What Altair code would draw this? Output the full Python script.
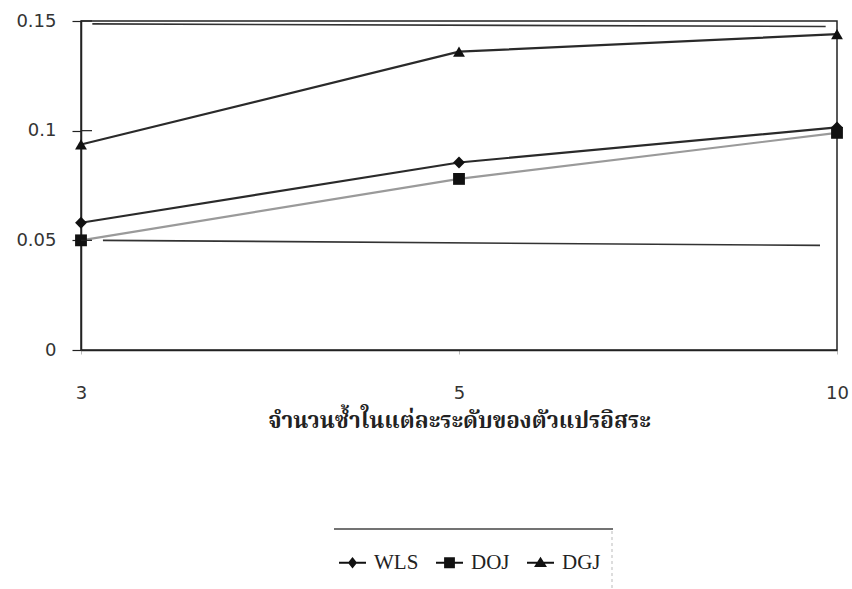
import altair as alt
import pandas as pd

# Replication counts per level of the independent variable (x categories)
categories = ["3", "5", "10"]
series_names = ["WLS", "DOJ", "DGJ"]

# Estimated rejection rates per method
wls = [0.058, 0.0855, 0.1015]
doj = [0.050, 0.078, 0.099]
dgj = [0.0937, 0.136, 0.144]

# Upper and lower bound lines (position along the category axis, value)
upper_pos = [0.03, 1.97]
upper_val = [0.1487, 0.1475]
lower_pos = [0.058, 1.955]
lower_val = [0.0500, 0.0477]

y_ticks = [0, 0.05, 0.1, 0.15]

rows = []
for name, vals in zip(series_names, [wls, doj, dgj]):
    for i, v in enumerate(vals):
        rows.append({"series": name, "pos": i, "value": v})
df = pd.DataFrame(rows)

bounds = pd.DataFrame(
    [{"band": "upper", "pos": p, "value": v} for p, v in zip(upper_pos, upper_val)]
    + [{"band": "lower", "pos": p, "value": v} for p, v in zip(lower_pos, lower_val)]
)

label_expr = "[" + ",".join(f"'{c}'" for c in categories) + "][datum.value]"

x_enc = alt.X(
    "pos:Q",
    scale=alt.Scale(domain=[0, len(categories) - 1], nice=False, zero=False),
    axis=alt.Axis(
        values=list(range(len(categories))),
        labelExpr=label_expr,
        labelFlush=False,
        labelBound=False,
        title="จำนวนซ้ำในแต่ละระดับของตัวแปรอิสระ",
        titleFont="Noto Serif Thai, Noto Sans Thai, Loma, Garuda, serif",
        titleFontSize=22.5,
        titleFontWeight="bold",
        titleColor="#222",
        titlePadding=7,
        labelFont="DejaVu Sans",
        labelFontSize=18,
        labelColor="#333",
        labelPadding=30,
        tickSize=4,
        tickColor="#bbbbbb",
        domainColor="#222",
        domainWidth=1.5,
        grid=False,
    ),
)

y_scale = alt.Scale(domain=[0, 0.15], nice=False)
y_enc = alt.Y(
    "value:Q",
    scale=y_scale,
    axis=alt.Axis(
        values=y_ticks,
        labelExpr="'' + datum.value",
        title=None,
        labelFont="DejaVu Sans",
        labelFontSize=18,
        labelColor="#333",
        labelPadding=16,
        tickSize=9,
        tickColor="#222",
        tickWidth=1.2,
        domainColor="#222",
        domainWidth=1.5,
        grid=False,
    ),
)

line_colors = ["#2a2a2a", "#9a9a9a", "#2a2a2a"]

bound_lines = alt.Chart(bounds).mark_line(color="#333", strokeWidth=1.6).encode(
    x=x_enc, y=y_enc, detail="band:N"
)

series_lines = alt.Chart(df).mark_line(strokeWidth=2.2).encode(
    x=x_enc,
    y=y_enc,
    color=alt.Color(
        "series:N",
        scale=alt.Scale(domain=series_names, range=line_colors),
        legend=None,
    ),
    order=alt.Order("pos:Q"),
)

series_points = alt.Chart(df).mark_point(
    filled=True, color="#111", opacity=1, size=140
).encode(
    x=x_enc,
    y=y_enc,
    shape=alt.Shape(
        "series:N",
        scale=alt.Scale(domain=series_names, range=["diamond", "square", "triangle-up"]),
        legend=None,
    ),
)

# Inward halves of the y-axis tick marks
inner_ticks = alt.Chart(pd.DataFrame({"value": y_ticks[1:]})).mark_rule(
    color="#222", strokeWidth=1.2
).encode(x=alt.value(0), x2=alt.value(11), y=y_enc)

# Legend symbols: a short line with the series marker on it
line_bar = "M-1,-0.08L1,-0.08L1,0.08L-1,0.08Z"
legend_paths = [
    line_bar + " M0,-0.42L0.34,0L0,0.42L-0.34,0Z",
    line_bar + " M-0.4,-0.4L0.4,-0.4L0.4,0.4L-0.4,0.4Z",
    line_bar + " M0,-0.45L0.48,0.32L-0.48,0.32Z",
]

legend_layer = alt.Chart(df).transform_filter("false").mark_point(
    filled=True, color="#111", opacity=1, size=729
).encode(
    x=x_enc,
    y=y_enc,
    shape=alt.Shape(
        "series:N",
        scale=alt.Scale(domain=series_names, range=legend_paths),
        legend=alt.Legend(
            title=None,
            orient="none",
            direction="horizontal",
            legendX=258,
            legendY=528,
            padding=0,
            labelFont="Liberation Serif",
            labelFontSize=21,
            labelColor="#222",
            labelOffset=8,
            columnPadding=17,
            symbolSize=729,
            symbolStrokeWidth=0,
            symbolFillColor="#111",
            symbolOpacity=1,
        ),
    ),
)

legend_top = alt.Chart(pd.DataFrame({"k": [0]})).mark_rule(color="#444", strokeWidth=1.3).encode(
    x=alt.value(253), x2=alt.value(532), y=alt.value(508)
)
legend_right = alt.Chart(pd.DataFrame({"k": [0]})).mark_rule(
    color="#bbb", strokeWidth=1, strokeDash=[3, 3]
).encode(x=alt.value(531), y=alt.value(510), y2=alt.value(568))

chart = (
    alt.layer(
        bound_lines,
        series_lines,
        series_points,
        inner_ticks,
        legend_layer,
        legend_top,
        legend_right,
    )
    .resolve_scale(shape="independent")
    .properties(
        width=756,
        height=329,
        autosize=alt.AutoSizeParams(type="none"),
        padding={"left": 81, "top": 21, "right": 15, "bottom": 239},
        background="white",
    )
    .configure_view(stroke="#222", strokeWidth=1.5)
)

chart.save("out.html", embed_options={"renderer": "svg", "actions": False})
